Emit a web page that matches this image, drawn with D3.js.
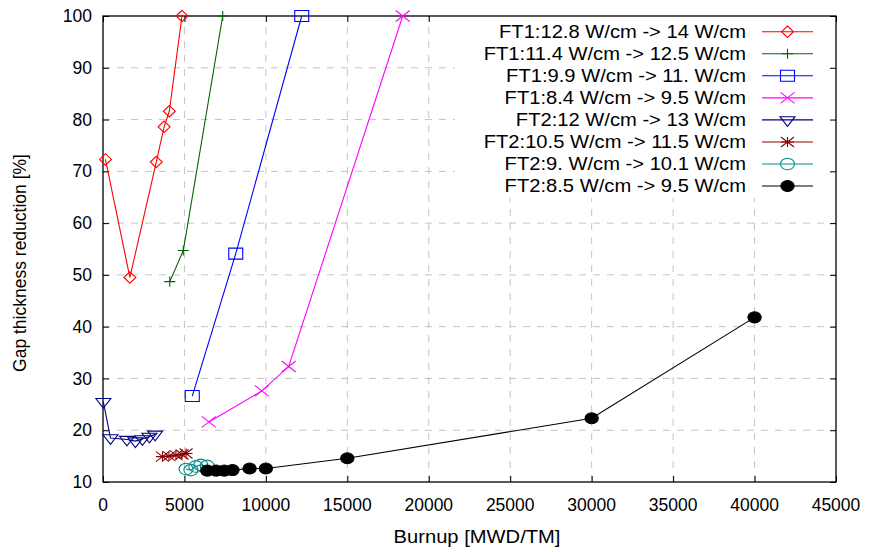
<!DOCTYPE html>
<html>
<head>
<meta charset="utf-8">
<script src="https://cdn.jsdelivr.net/npm/d3@7"></script>
<style>
  body { margin: 0; background: #fff; }
  svg text { font-family: "Liberation Sans", Arial, sans-serif; fill: #000; }
</style>
</head>
<body>
<div id="box1"><svg id="box1_svg"></svg></div>
<script>
"use strict";

// values: [burnup MWD/TM, gap thickness reduction %]
const series_labels = [
  'FT1:12.8 W/cm -> 14 W/cm',
  'FT1:11.4 W/cm -> 12.5 W/cm',
  'FT1:9.9 W/cm -> 11. W/cm',
  'FT1:8.4 W/cm -> 9.5 W/cm',
  'FT2:12 W/cm -> 13 W/cm',
  'FT2:10.5 W/cm -> 11.5 W/cm',
  'FT2:9. W/cm -> 10.1 W/cm',
  'FT2:8.5 W/cm -> 9.5 W/cm'
];

const ft1_128 = [[150, 72.3], [1650, 49.5], [3270, 71.8], [3750, 78.6], [4070, 81.6], [4850, 100]];
const ft1_114 = [[4100, 48.7], [4930, 54.7], [7350, 100]];
const ft1_99 = [[5480, 26.6], [8150, 54.1], [12200, 100]];
const ft1_84 = [[6500, 21.6], [9750, 27.6], [11400, 32.3], [18400, 100]];
const ft2_12 = [[20, 25.5], [460, 18.5], [1470, 18.2], [1990, 17.9], [2420, 18.3], [2850, 18.8], [3200, 19.2]];
const ft2_105 = [[3650, 14.9], [4050, 15.0], [4480, 15.2], [4850, 15.3], [5100, 15.5]];
const ft2_9 = [[5100, 12.5], [5400, 12.3], [5700, 13.0], [6000, 13.3], [6400, 13.1]];
const ft2_85 = [[6400, 12.2], [6950, 12.2], [7450, 12.2], [7950, 12.3], [9000, 12.6], [10000, 12.6],
  [15000, 14.6], [30000, 22.3], [40000, 41.8]];

const all_series = [ft1_128, ft1_114, ft1_99, ft1_84, ft2_12, ft2_105, ft2_9, ft2_85];

const x_ticks = [0, 5000, 10000, 15000, 20000, 25000, 30000, 35000, 40000, 45000];
const y_ticks = [10, 20, 30, 40, 50, 60, 70, 80, 90, 100];

// styles
const series_colors = ['#ff0000', '#006400', '#0000ff', '#ff00ff', '#000080', '#8b0000', '#008b8b', '#000000'];
const series_shapes = ['diamond', 'plus', 'square', 'cross', 'tri_down', 'star', 'circle', 'dot'];

const p = {
  width: 870,
  height: 552,
  left: 103,
  right: 836,
  top: 16,
  bottom: 482,
  tick_len: 6,
  grid_color: '#c4c4c4',
  grid_dash: '7,7',
  key_left: 455,
  key_bottom: 198,
  key_text_x: 746,
  key_line_x0: 762,
  key_line_x1: 813,
  key_y0: 31.7,
  key_dy: 22.05,
  text_stretch: 1.12,
};

// marker paths in local coords (picture is a bit stretched sideways)
const marker_path = (shape) => {
  switch (shape) {
    case 'diamond': return 'M0,-5.7L6,0L0,5.7L-6,0Z';
    case 'plus': return 'M-5.5,0H5.5M0,-5H0V5';
    case 'square': return 'M-7,-5.5H7V5.5H-7Z';
    case 'cross': return 'M-7,-5.5L7,5.5M-7,5.5L7,-5.5';
    case 'tri_down': return 'M-7.5,-3.2H7.5L0,6.4Z';
    case 'star': return 'M-6.5,0H6.5M0,-5V5M-6.5,-5L6.5,5M-6.5,5L6.5,-5';
    case 'circle':
    case 'dot': return 'M-7,0A7,5.8 0 1,0 7,0A7,5.8 0 1,0 -7,0Z';
  }
};

const draw_marker = (g, shape, color, x, y) => {
  g.append('path')
    .attr('d', marker_path(shape))
    .attr('transform', `translate(${x},${y})` + (shape == 'dot' ? ' scale(0.95)' : ''))
    .attr('fill', shape == 'dot' ? color : 'none')
    .attr('stroke', color)
    .attr('stroke-width', 1.1);
};

const render = () => {
  const svg = d3.select('#box1_svg')
    .attr('width', p.width)
    .attr('height', p.height);

  const x = d3.scaleLinear().domain([0, 45000]).range([p.left, p.right]);
  const y = d3.scaleLinear().domain([10, 100]).range([p.bottom, p.top]);

  // grid
  const grid = svg.append('g');
  grid.selectAll('.vg')
    .data(x_ticks.slice(1, -1))
    .join('line')
    .attr('x1', d => x(d)).attr('x2', d => x(d))
    .attr('y1', p.bottom).attr('y2', p.top)
    .attr('stroke', p.grid_color)
    .attr('stroke-dasharray', p.grid_dash);
  grid.selectAll('.hg')
    .data(y_ticks.slice(1, -1))
    .join('line')
    .attr('x1', p.left).attr('x2', p.right)
    .attr('y1', d => y(d)).attr('y2', d => y(d))
    .attr('stroke', p.grid_color)
    .attr('stroke-dasharray', p.grid_dash);

  // top ticks (hidden under the key box)
  svg.append('g')
    .attr('transform', `translate(0,${p.top})`)
    .call(d3.axisTop(x).tickValues(x_ticks).tickSizeInner(-p.tick_len).tickSizeOuter(0).tickFormat(''))
    .call(g => g.select('.domain').remove());

  // opaque key box
  svg.append('rect')
    .attr('x', p.key_left)
    .attr('y', p.top)
    .attr('width', p.right - p.key_left)
    .attr('height', p.key_bottom - p.top)
    .attr('fill', '#fff');

  // other ticks
  svg.append('g')
    .attr('transform', `translate(0,${p.bottom})`)
    .call(d3.axisBottom(x).tickValues(x_ticks).tickSizeInner(-p.tick_len).tickSizeOuter(0).tickFormat(''))
    .call(g => g.select('.domain').remove());
  svg.append('g')
    .attr('transform', `translate(${p.left},0)`)
    .call(d3.axisLeft(y).tickValues(y_ticks).tickSizeInner(-p.tick_len).tickSizeOuter(0).tickFormat(''))
    .call(g => g.select('.domain').remove());
  svg.append('g')
    .attr('transform', `translate(${p.right},0)`)
    .call(d3.axisRight(y).tickValues(y_ticks).tickSizeInner(-p.tick_len).tickSizeOuter(0).tickFormat(''))
    .call(g => g.select('.domain').remove());
  svg.selectAll('.tick line').attr('stroke', '#000');

  // frame
  svg.append('rect')
    .attr('x', p.left)
    .attr('y', p.top)
    .attr('width', p.right - p.left)
    .attr('height', p.bottom - p.top)
    .attr('fill', 'none')
    .attr('stroke', '#000')
    .attr('stroke-width', 1.3);

  // tick labels
  svg.append('g').selectAll('text')
    .data(x_ticks)
    .join('text')
    .attr('x', d => x(d))
    .attr('y', 505)
    .attr('dy', '0.35em')
    .attr('text-anchor', 'middle')
    .attr('font-size', 17.5)
    .text(d => d);
  svg.append('g').selectAll('text')
    .data(y_ticks)
    .join('text')
    .attr('x', 92)
    .attr('y', d => y(d))
    .attr('dy', '0.35em')
    .attr('text-anchor', 'end')
    .attr('font-size', 17.5)
    .text(d => d);

  // axis titles
  svg.append('text')
    .attr('transform', `translate(477,537) scale(${p.text_stretch},1)`)
    .attr('dy', '0.35em')
    .attr('text-anchor', 'middle')
    .attr('font-size', 18)
    .text('Burnup [MWD/TM]');
  svg.append('text')
    .attr('transform', 'translate(20,263) rotate(-90)')
    .attr('dy', '0.35em')
    .attr('text-anchor', 'middle')
    .attr('font-size', 17.5)
    .text('Gap thickness reduction [%]');

  // series
  const line = d3.line().x(d => x(d[0])).y(d => y(d[1]));
  all_series.forEach((s, i) => {
    const g = svg.append('g');
    g.append('path')
      .attr('d', line(s))
      .attr('fill', 'none')
      .attr('stroke', series_colors[i])
      .attr('stroke-width', 1.1);
    s.forEach(d => draw_marker(g, series_shapes[i], series_colors[i], x(d[0]), y(d[1])));
  });

  // key
  series_labels.forEach((lab, i) => {
    const ky = p.key_y0 + i * p.key_dy;
    svg.append('text')
      .attr('transform', `translate(${p.key_text_x},${ky}) scale(${p.text_stretch},1)`)
      .attr('dy', '0.35em')
      .attr('text-anchor', 'end')
      .attr('font-size', 18)
      .text(lab);
    const g = svg.append('g');
    g.append('line')
      .attr('x1', p.key_line_x0).attr('x2', p.key_line_x1)
      .attr('y1', ky).attr('y2', ky)
      .attr('stroke', series_colors[i])
      .attr('stroke-width', 1.1);
    draw_marker(g, series_shapes[i], series_colors[i], (p.key_line_x0 + p.key_line_x1) / 2, ky);
  });
};

render();
</script>
</body>
</html>
